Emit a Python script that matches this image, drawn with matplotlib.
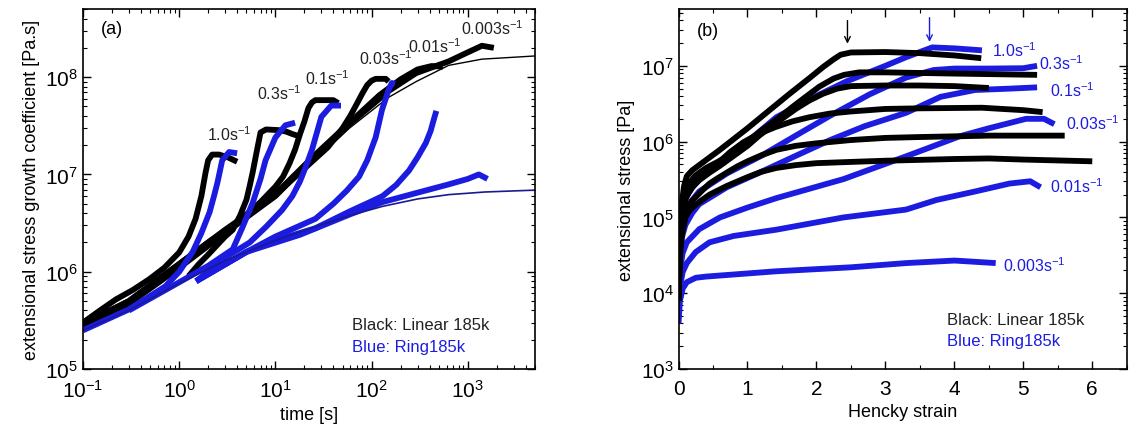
import numpy as np
import matplotlib
matplotlib.use("Agg")
import matplotlib.pyplot as plt
from matplotlib.ticker import MultipleLocator, LogLocator

plt.rcParams['font.family'] = ['Liberation Sans', 'DejaVu Sans']
plt.rcParams['mathtext.default'] = 'regular'

BLACK = '#000000'
BLUE = '#1c1ce0'
NAVY = '#1a1a90'

# ---------- panel (a): stress growth coefficient vs time ----------
rates_a = ['1.0', '0.3', '0.1', '0.03', '0.01', '0.003']

# Linear 185k (black)
lin_t = [
    [0.1, 0.15, 0.22, 0.33, 0.49, 0.7, 1.0, 1.25, 1.48, 1.7, 1.88, 2.0, 2.2, 2.6, 3.2, 4.0],
    [1.25, 1.6, 2.0, 2.5, 3.0, 3.6, 4.3, 5.0, 5.4, 5.8, 6.3, 7.0, 8.0, 11.0, 13.0, 15.0, 17.0],
    [0.1, 0.3, 1.0, 2.0, 4.0, 7.0, 10, 12, 14, 16, 18, 20, 22, 24, 26, 40, 45],
    [0.1, 0.3, 1, 3, 10, 20, 35, 50, 60, 70, 80, 90, 100, 110, 140, 150],
    [0.1, 0.3, 1, 3, 10, 26, 59, 120, 200, 300, 420, 550],
    [0.1, 0.3, 1, 3, 10, 26, 59, 150, 290, 630, 1000, 1400, 1860],
]
lin_eta = [
    [3.0e5, 4.0e5, 5.2e5, 6.5e5, 8.4e5, 1.1e6, 1.58e6, 2.3e6, 3.5e6, 6.0e6, 1.05e7, 1.4e7, 1.6e7, 1.6e7, 1.5e7, 1.35e7],
    [9e5, 1.2e6, 1.5e6, 1.9e6, 2.3e6, 2.7e6, 3.8e6, 5.5e6, 7.6e6, 1.05e7, 1.6e7, 2.7e7, 2.9e7, 2.85e7, 2.75e7, 2.6e7, 2.5e7],
    [2.9e5, 5.0e5, 1.2e6, 2.0e6, 3.2e6, 5.2e6, 7.5e6, 9.5e6, 1.3e7, 1.8e7, 2.6e7, 3.5e7, 4.8e7, 5.5e7, 5.8e7, 5.8e7, 5.4e7],
    [2.9e5, 5e5, 1.2e6, 2.7e6, 6.2e6, 1.15e7, 1.9e7, 3.0e7, 4.0e7, 5.3e7, 6.8e7, 8.3e7, 9.2e7, 9.6e7, 9.6e7, 9.0e7],
    [2.9e5, 4.8e5, 1.15e6, 2.6e6, 6.3e6, 1.6e7, 3.4e7, 6.5e7, 9.5e7, 1.2e8, 1.3e8, 1.28e8],
    [2.8e5, 4.7e5, 1.1e6, 2.5e6, 6.0e6, 1.55e7, 3.3e7, 7.2e7, 1.1e8, 1.45e8, 1.8e8, 2.1e8, 2.0e8],
]
lin_lve_t = [0.1, 0.3, 1, 3, 10, 26, 59, 150, 290, 630, 1400, 5000]
lin_lve_eta = [2.8e5, 4.6e5, 1.1e6, 2.5e6, 5.8e6, 1.4e7, 3.0e7, 6.2e7, 9e7, 1.32e8, 1.53e8, 1.65e8]

# Ring185k (blue)
ring_t = [
    [0.1, 0.3, 0.72, 1.0, 1.38, 1.7, 2.07, 2.3, 2.5, 2.8, 3.3, 4.0],
    [0.3, 1.0, 2.0, 3.6, 4.5, 5.8, 7.0, 7.9, 10, 12.7, 16],
    [1.5, 3, 5.4, 8.0, 11.7, 15, 18, 21, 24, 30, 38, 48],
    [1.5, 5, 10, 26, 40, 55, 74, 90, 110, 128, 150, 162, 175],
    [1.5, 5, 10, 26, 60, 100, 130, 180, 245, 300, 365, 410, 440, 470],
    [1.5, 5, 18, 60, 130, 300, 630, 1000, 1300, 1600],
]
ring_eta = [
    [2.5e5, 4.1e5, 7.1e5, 1.0e6, 1.6e6, 2.5e6, 4.1e6, 6.0e6, 8.3e6, 1.4e7, 1.7e7, 1.65e7],
    [4.0e5, 7.8e5, 1.15e6, 1.7e6, 2.8e6, 5.1e6, 9.0e6, 1.4e7, 2.4e7, 3.2e7, 3.4e7],
    [8e5, 1.4e6, 2.0e6, 2.9e6, 4.3e6, 6.0e6, 8.5e6, 1.25e7, 1.8e7, 3.9e7, 5.1e7, 5.1e7],
    [8e5, 1.6e6, 2.3e6, 3.5e6, 5.0e6, 6.8e6, 9.5e6, 1.4e7, 2.4e7, 4.6e7, 7.4e7, 8.7e7, 8.5e7],
    [8e5, 1.6e6, 2.1e6, 2.8e6, 4.2e6, 5.3e6, 6.0e6, 7.8e6, 1.1e7, 1.5e7, 2.1e7, 2.8e7, 3.6e7, 4.5e7],
    [8e5, 1.6e6, 2.4e6, 3.9e6, 5.2e6, 6.5e6, 7.9e6, 9.0e6, 1.0e7, 9.0e6],
]
ring_lve_t = [0.1, 0.3, 1, 3, 10, 26, 60, 130, 300, 630, 1500, 5000]
ring_lve_eta = [2.5e5, 4.0e5, 7.6e5, 1.3e6, 2.1e6, 2.9e6, 3.8e6, 4.7e6, 5.6e6, 6.2e6, 6.6e6, 6.9e6]

label_a_t = [3.3, 11, 35, 141, 455, 1780]
label_a_eta = [2.1e7, 5.5e7, 8e7, 1.26e8, 1.7e8, 2.6e8]

# ---------- panel (b): stress vs Hencky strain ----------
lin_eps = [
    [0.0, 0.02, 0.05, 0.08, 0.12, 0.2, 0.3, 0.6, 1.0, 1.32, 1.6, 1.9, 2.1, 2.25, 2.35, 2.5, 3.0, 3.5, 4.0, 4.39],
    [0.0, 0.02, 0.05, 0.1, 0.16, 0.25, 0.4, 0.55, 0.7, 0.85, 1.0, 1.2, 1.42, 1.7, 2.04, 2.25, 2.4, 2.62, 3.0, 4.0, 5.2],
    [0.0, 0.02, 0.05, 0.1, 0.2, 0.3, 0.45, 0.6, 0.8, 1.0, 1.17, 1.35, 1.5, 1.7, 1.9, 2.1, 2.3, 2.5, 3.0, 3.5, 4.0, 4.5],
    [0.0, 0.02, 0.05, 0.1, 0.15, 0.25, 0.36, 0.5, 0.6, 0.75, 0.94, 1.15, 1.4, 1.65, 1.9, 2.2, 2.5, 3.0, 3.5, 4.4, 5.0, 5.28],
    [0.0, 0.02, 0.05, 0.08, 0.12, 0.18, 0.26, 0.35, 0.45, 0.57, 0.7, 0.85, 1.0, 1.2, 1.42, 1.7, 2.0, 2.5, 3.0, 3.5, 4.5, 5.0, 5.6],
    [0.0, 0.02, 0.05, 0.1, 0.15, 0.22, 0.3, 0.45, 0.7, 1.0, 1.2, 1.42, 1.7, 2.0, 2.5, 3.0, 4.0, 4.5, 5.0, 6.0],
]
lin_sig = [
    [8e3, 6e4, 1.6e5, 2.6e5, 3.5e5, 4.2e5, 4.9e5, 7.8e5, 1.5e6, 2.6e6, 4.2e6, 6.9e6, 9.7e6, 1.22e7, 1.4e7, 1.5e7, 1.52e7, 1.47e7, 1.37e7, 1.26e7],
    [8e3, 5e4, 1.3e5, 2.2e5, 2.9e5, 3.6e5, 4.5e5, 5.3e5, 6.3e5, 7.8e5, 1.0e6, 1.4e6, 1.95e6, 3.1e6, 5.3e6, 6.8e6, 7.6e6, 8.2e6, 8.2e6, 7.9e6, 7.6e6],
    [8e3, 4.5e4, 1.1e5, 1.8e5, 2.5e5, 3.1e5, 3.9e5, 4.8e5, 6.5e5, 8.8e5, 1.2e6, 1.6e6, 2.0e6, 2.7e6, 3.5e6, 4.3e6, 5.0e6, 5.4e6, 5.5e6, 5.5e6, 5.4e6, 5.1e6],
    [8e3, 4e4, 1e5, 1.7e5, 2.2e5, 2.9e5, 3.5e5, 4.5e5, 5.5e5, 7.3e5, 9.8e5, 1.25e6, 1.55e6, 1.85e6, 2.1e6, 2.35e6, 2.5e6, 2.7e6, 2.75e6, 2.8e6, 2.6e6, 2.45e6],
    [8e3, 3.5e4, 8e4, 1.05e5, 1.3e5, 1.6e5, 1.9e5, 2.3e5, 2.8e5, 3.3e5, 3.9e5, 4.7e5, 5.5e5, 6.6e5, 7.8e5, 8.8e5, 9.5e5, 1.05e6, 1.12e6, 1.15e6, 1.2e6, 1.2e6, 1.2e6],
    [8e3, 3e4, 6e4, 1.0e5, 1.2e5, 1.4e5, 1.6e5, 2.0e5, 2.6e5, 3.4e5, 4.0e5, 4.5e5, 4.9e5, 5.2e5, 5.4e5, 5.6e5, 5.9e5, 6.0e5, 5.8e5, 5.5e5],
]
ring_eps = [
    [0.0, 0.02, 0.05, 0.1, 0.2, 0.3, 0.55, 1.0, 1.42, 2.0, 2.43, 3.0, 3.3, 3.68, 4.0, 4.4],
    [0.0, 0.02, 0.05, 0.1, 0.2, 0.3, 0.7, 1.2, 1.7, 2.2, 2.77, 3.3, 3.7, 4.0, 4.5, 5.0, 5.2],
    [0.0, 0.02, 0.05, 0.1, 0.2, 0.3, 0.7, 1.2, 1.7, 2.2, 2.7, 3.3, 3.8, 4.3, 4.8, 5.2],
    [0.0, 0.02, 0.06, 0.12, 0.3, 0.6, 1.0, 1.42, 2.39, 3.3, 4.07, 4.5, 5.04, 5.3, 5.45],
    [0.0, 0.02, 0.06, 0.12, 0.25, 0.45, 0.8, 1.42, 2.39, 3.3, 3.74, 4.3, 4.8, 5.1, 5.25],
    [0.0, 0.02, 0.06, 0.12, 0.25, 0.4, 1.42, 2.5, 3.3, 4.0, 4.3, 4.6],
]
ring_sig = [
    [3e4, 8e4, 1.25e5, 1.8e5, 2.5e5, 3.2e5, 4.7e5, 1.0e6, 2.1e6, 4.0e6, 6.2e6, 1.0e7, 1.3e7, 1.75e7, 1.7e7, 1.6e7],
    [2e4, 5e4, 8e4, 1.2e5, 1.7e5, 2.2e5, 3.8e5, 6.5e5, 1.2e6, 2.2e6, 4.2e6, 7.0e6, 8.8e6, 9.2e6, 9.2e6, 9.3e6, 1.0e7],
    [1e4, 3e4, 5.5e4, 8e4, 1.15e5, 1.5e5, 2.5e5, 4.0e5, 6.5e5, 1.05e6, 1.6e6, 2.4e6, 3.9e6, 4.8e6, 5.0e6, 5.2e6],
    [6e3, 2e4, 3.4e4, 4.7e4, 7e4, 1.0e5, 1.35e5, 1.8e5, 3.2e5, 6.4e5, 1.17e6, 1.5e6, 2.0e6, 2.0e6, 1.7e6],
    [5e3, 1.2e4, 1.9e4, 2.5e4, 3.5e4, 4.7e4, 5.7e4, 6.9e4, 1.0e5, 1.27e5, 1.7e5, 2.2e5, 2.8e5, 3.0e5, 2.5e5],
    [4e3, 8e3, 1.15e4, 1.4e4, 1.6e4, 1.66e4, 1.95e4, 2.2e4, 2.5e4, 2.7e4, 2.6e4, 2.5e4],
]
label_b_eps = [4.55, 5.23, 5.38, 5.62, 5.38, 4.7]
label_b_sig = [1.65e7, 1.1e7, 4.8e6, 1.8e6, 2.6e5, 2.4e4]

fig = plt.figure(figsize=(11.29, 4.39), dpi=100)
ax1 = fig.add_axes([0.0735, 0.157, 0.4005, 0.820])
ax2 = fig.add_axes([0.601, 0.157, 0.397, 0.820])

for ax in (ax1, ax2):
    ax.tick_params(which='both', direction='in', top=True, right=True, labelsize=15)
    ax.tick_params(which='major', length=6, width=1)
    ax.tick_params(which='minor', length=3, width=0.8)
    ax.tick_params(axis='x', pad=7)
    for s in ax.spines.values():
        s.set_linewidth(1.2)

# panel (a)
for t, e in zip(lin_t, lin_eta):
    ax1.plot(t, e, color=BLACK, lw=4.2, solid_capstyle='butt', solid_joinstyle='round')
ax1.plot(lin_lve_t, lin_lve_eta, color=BLACK, lw=1)
for t, e in zip(ring_t, ring_eta):
    ax1.plot(t, e, color=BLUE, lw=4.2, solid_capstyle='butt', solid_joinstyle='round')
ax1.plot(ring_lve_t, ring_lve_eta, color=NAVY, lw=1.2)
for r, x, y in zip(rates_a, label_a_t, label_a_eta):
    ax1.text(x, y, r + 's$^{-1}$', fontsize=11.5, ha='center', va='bottom', color='#222222')

ax1.set_xscale('log')
ax1.set_yscale('log')
ax1.set_xlim(0.1, 5000)
ax1.set_ylim(1e5, 5e8)
ax1.xaxis.set_minor_locator(LogLocator(base=10, subs=np.arange(2, 10), numticks=20))
ax1.yaxis.set_minor_locator(LogLocator(base=10, subs=np.arange(2, 10), numticks=20))
ax1.set_xlabel('time [s]', fontsize=13)
ax1.set_ylabel('extensional stress growth coefficient [Pa.s]', fontsize=13)
ax1.text(0.04, 0.945, '(a)', transform=ax1.transAxes, fontsize=13, va='center')
ax1.text(0.595, 0.125, 'Black: Linear 185k', transform=ax1.transAxes, fontsize=12, color='#222222', va='center')
ax1.text(0.595, 0.064, 'Blue: Ring185k', transform=ax1.transAxes, fontsize=12, color=BLUE, va='center')

# panel (b)
for x, y in zip(ring_eps, ring_sig):
    ax2.plot(x, y, color=BLUE, lw=4.2, solid_capstyle='butt', solid_joinstyle='round')
for x, y in zip(lin_eps, lin_sig):
    ax2.plot(x, y, color=BLACK, lw=4.2, solid_capstyle='butt', solid_joinstyle='round')
for r, x, y in zip(rates_a, label_b_eps, label_b_sig):
    ax2.text(x, y, r + 's$^{-1}$', fontsize=11.5, ha='left', va='center', color=BLUE)

ax2.annotate('', xy=(2.45, 1.8e7), xytext=(2.45, 4.3e7),
             arrowprops=dict(arrowstyle='->', color=BLACK, lw=1))
ax2.annotate('', xy=(3.64, 1.9e7), xytext=(3.64, 4.7e7),
             arrowprops=dict(arrowstyle='->', color=BLUE, lw=1))

ax2.set_yscale('log')
ax2.set_xlim(0, 6.5)
ax2.set_ylim(1e3, 5.6e7)
ax2.xaxis.set_major_locator(MultipleLocator(1))
ax2.xaxis.set_minor_locator(MultipleLocator(0.5))
ax2.yaxis.set_minor_locator(LogLocator(base=10, subs=np.arange(2, 10), numticks=20))
ax2.set_xlabel('Hencky strain', fontsize=13)
ax2.set_ylabel('extensional stress [Pa]', fontsize=13)
ax2.text(0.04, 0.94, '(b)', transform=ax2.transAxes, fontsize=13, va='center')
ax2.text(0.598, 0.139, 'Black: Linear 185k', transform=ax2.transAxes, fontsize=12, color='#222222', va='center')
ax2.text(0.598, 0.080, 'Blue: Ring185k', transform=ax2.transAxes, fontsize=12, color=BLUE, va='center')

fig.savefig('out.png', dpi=100)
